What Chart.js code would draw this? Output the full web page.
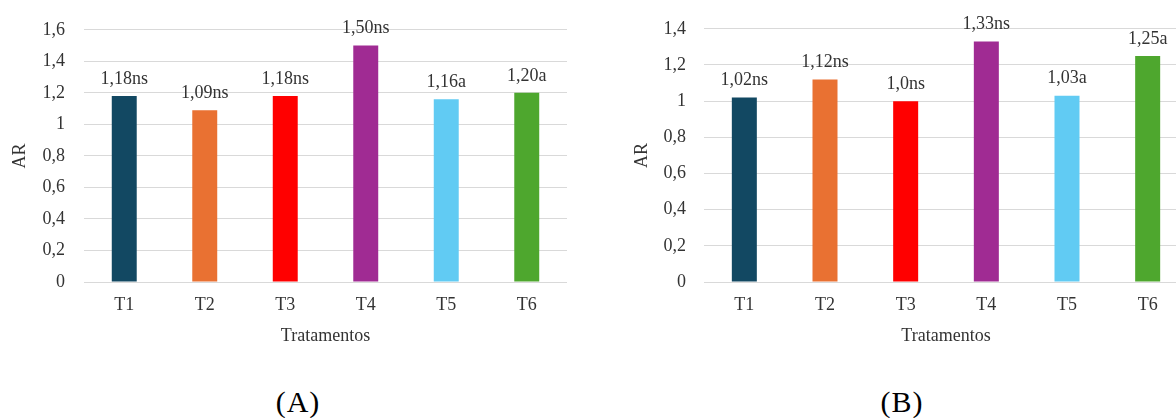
<!DOCTYPE html>
<html>
<head>
<meta charset="utf-8">
<script src="https://cdn.jsdelivr.net/npm/chart.js@4"></script>
<style>
  body { margin: 0; background: #fff; width: 1176px; height: 418px; overflow: hidden; position: relative; }
  canvas { position: absolute; top: 0; }
  #chartA { left: 0; }
  #chartB { left: 600px; }
  .tag { position: absolute; font-family: "Liberation Serif", serif; font-size: 30px; letter-spacing: 1px; color: #000; transform: translateX(-50%); }
</style>
</head>
<body>
<canvas id="chartA" width="590" height="360"></canvas>
<canvas id="chartB" width="600" height="360"></canvas>
<div class="tag" style="left:298px; top:385px;">(A)</div>
<div class="tag" style="left:902px; top:385px;">(B)</div>
<script>
var categories = ['T1', 'T2', 'T3', 'T4', 'T5', 'T6'];
var colors = ['#124862', '#E97132', '#FF0000', '#A02B93', '#61CBF3', '#4EA72E'];

var valuesA = [1.18, 1.09, 1.18, 1.50, 1.16, 1.20];
var labelsA = ['1,18ns', '1,09ns', '1,18ns', '1,50ns', '1,16a', '1,20a'];
var ticksA = ['0', '0,2', '0,4', '0,6', '0,8', '1', '1,2', '1,4', '1,6'];

var valuesB = [1.02, 1.12, 1.00, 1.33, 1.03, 1.25];
var labelsB = ['1,02ns', '1,12ns', '1,0ns', '1,33ns', '1,03a', '1,25a'];
var ticksB = ['0', '0,2', '0,4', '0,6', '0,8', '1', '1,2', '1,4'];

var textColor = '#333333';
var fontFamily = '"Liberation Serif", "Times New Roman", serif';

// draws the text above each bar
var barLabels = {
    id: 'barLabels',
    afterDatasetsDraw: function(chart) {
        var ctx = chart.ctx;
        var texts = chart.options.plugins.barLabels.texts;
        var meta = chart.getDatasetMeta(0);
        ctx.save();
        ctx.font = '18px ' + fontFamily;
        ctx.fillStyle = textColor;
        ctx.textAlign = 'center';
        ctx.textBaseline = 'bottom';
        for (var i = 0; i < meta.data.length; i++) {
            var bar = meta.data[i];
            ctx.fillText(texts[i], bar.x, bar.y - 8);
        }
        ctx.restore();
    }
};

function makeChart(canvasId, values, texts, tickLabels, maxY, yWidth, padRight, tickPad, titlePad) {
    var ctx = document.getElementById(canvasId);
    return new Chart(ctx, {
        type: 'bar',
        data: {
            labels: categories,
            datasets: [{
                data: values,
                backgroundColor: colors,
                borderWidth: 0,
                categoryPercentage: 1,
                barPercentage: 0.31
            }]
        },
        options: {
            responsive: false,
            animation: false,
            devicePixelRatio: 1,
            layout: { padding: { left: 0, top: 27, right: padRight, bottom: 0 } },
            plugins: {
                legend: { display: false },
                tooltip: { enabled: false },
                barLabels: { texts: texts }
            },
            scales: {
                x: {
                    grid: { display: false, drawTicks: false },
                    border: { display: false },
                    ticks: { color: textColor, padding: 12, font: { family: fontFamily, size: 18 } },
                    title: { display: true, text: 'Tratamentos', color: textColor,
                             font: { family: fontFamily, size: 18 }, padding: { top: 0, bottom: 13 } },
                    afterFit: function(scale) { scale.height = 78; }
                },
                y: {
                    min: 0,
                    max: maxY,
                    grid: { color: '#D9D9D9', lineWidth: 1, drawTicks: false },
                    border: { display: false },
                    ticks: {
                        stepSize: 0.2,
                        padding: tickPad,
                        color: textColor,
                        font: { family: fontFamily, size: 18 },
                        callback: function(v, i) { return tickLabels[i]; }
                    },
                    title: { display: true, text: 'AR', color: textColor,
                             font: { family: fontFamily, size: 18 }, padding: { top: titlePad, bottom: 0 } },
                    afterFit: function(scale) { scale.width = yWidth; }
                }
            }
        },
        plugins: [barLabels]
    });
}

makeChart('chartA', valuesA, labelsA, ticksA, 1.6, 84, 23, 19, 9);
makeChart('chartB', valuesB, labelsB, ticksB, 1.4, 104, 12, 18, 31);
</script>
</body>
</html>
